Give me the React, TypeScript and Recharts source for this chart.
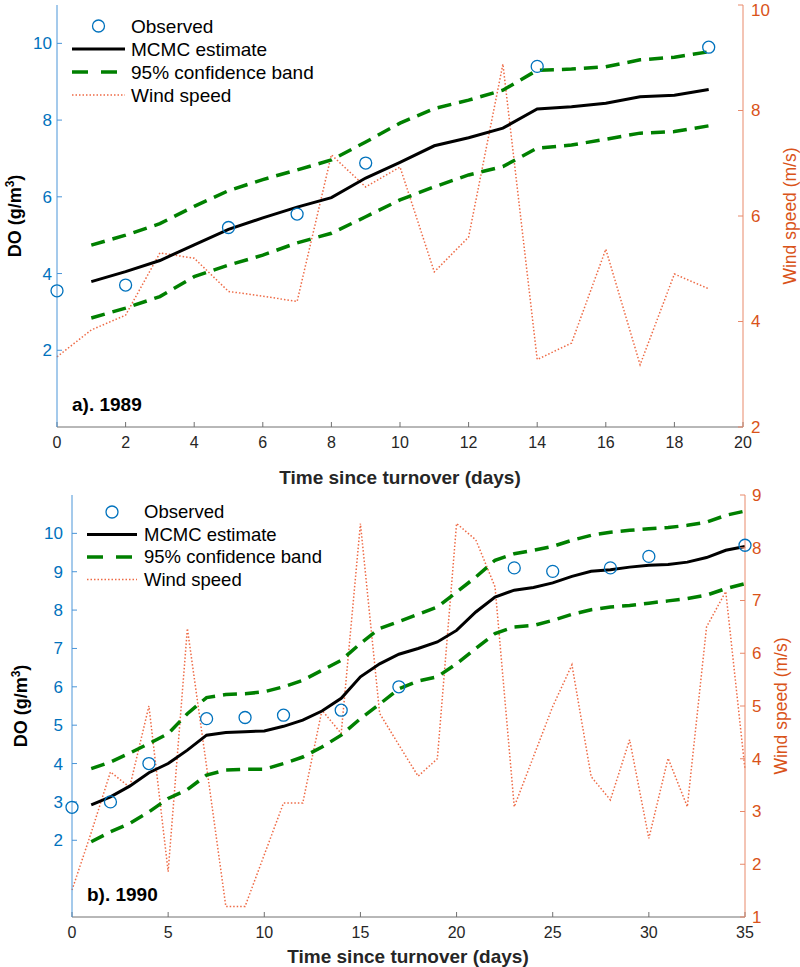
import React from 'react';
import { ComposedChart, Line, XAxis, YAxis } from 'recharts';

// ---------- data: 1989 ----------
const days1989 = [0, 1, 2, 3, 4, 5, 6, 7, 8, 9, 10, 11, 12, 13, 14, 15, 16, 17, 18, 19];
const observed1989 = [3.55, null, 3.7, null, null, 5.2, null, 5.55, null, 6.88, null, null, null, null, 9.4, null, null, null, null, 9.9];
const mcmc1989 = [null, 3.79, 4.05, 4.34, 4.75, 5.15, 5.45, 5.73, 5.98, 6.49, 6.9, 7.33, 7.54, 7.79, 8.29, 8.35, 8.44, 8.61, 8.65, 8.8];
const upper1989 = [null, 4.74, 5.0, 5.3, 5.75, 6.16, 6.45, 6.7, 6.96, 7.43, 7.92, 8.3, 8.52, 8.78, 9.3, 9.33, 9.39, 9.57, 9.64, 9.78];
const lower1989 = [null, 2.84, 3.1, 3.4, 3.92, 4.22, 4.48, 4.8, 5.05, 5.48, 5.92, 6.26, 6.57, 6.79, 7.27, 7.35, 7.5, 7.66, 7.7, 7.85];
const wind1989 = [3.33, 3.84, 4.12, 5.3, 5.2, 4.57, 4.48, 4.38, 7.16, 6.55, 6.93, 4.94, 5.6, 8.88, 3.28, 3.59, 5.37, 3.18, 4.9, 4.62];
const xTicks1989 = [0, 2, 4, 6, 8, 10, 12, 14, 16, 18, 20];
const doTicks1989 = [2, 4, 6, 8, 10];
const windTicks1989 = [2, 4, 6, 8, 10];

// ---------- data: 1990 ----------
const days1990 = [0, 1, 2, 3, 4, 5, 6, 7, 8, 9, 10, 11, 12, 13, 14, 15, 16, 17, 18, 19, 20, 21, 22, 23, 24, 25, 26, 27, 28, 29, 30, 31, 32, 33, 34, 35];
const observed1990 = [2.86, null, 3.0, null, 4.0, null, null, 5.17, null, 5.2, null, 5.26, null, null, 5.39, null, null, 6.0, null, null, null, null, null, 9.1, null, 9.01, null, null, 9.1, null, 9.4, null, null, null, null, 9.69];
const mcmc1990 = [null, 2.92, 3.13, 3.41, 3.76, 4.0, 4.35, 4.74, 4.81, 4.83, 4.85, 4.97, 5.13, 5.37, 5.7, 6.26, 6.6, 6.85, 7.0, 7.17, 7.47, 7.95, 8.34, 8.52, 8.59, 8.71, 8.88, 9.01, 9.05, 9.12, 9.17, 9.19, 9.25, 9.37, 9.56, 9.66];
const upper1990 = [null, 3.87, 4.04, 4.27, 4.52, 4.78, 5.3, 5.72, 5.8, 5.82, 5.87, 6.0, 6.17, 6.43, 6.69, 7.13, 7.52, 7.7, 7.89, 8.08, 8.47, 8.86, 9.3, 9.47, 9.56, 9.66, 9.82, 9.95, 10.03, 10.08, 10.12, 10.15, 10.21, 10.29, 10.47, 10.58];
const lower1990 = [null, 1.96, 2.22, 2.44, 2.74, 3.09, 3.32, 3.7, 3.83, 3.85, 3.85, 4.0, 4.17, 4.43, 4.74, 5.17, 5.55, 5.95, 6.15, 6.26, 6.6, 7.0, 7.39, 7.56, 7.6, 7.73, 7.89, 8.01, 8.08, 8.12, 8.18, 8.24, 8.3, 8.39, 8.56, 8.69];
const wind1990 = [1.51, 2.6, 3.75, 3.46, 5.0, 1.86, 6.47, 3.85, 1.2, 1.2, 2.18, 3.16, 3.16, 4.92, 4.48, 8.46, 4.86, 4.26, 3.67, 4.0, 8.46, 8.15, 7.26, 3.09, 4.04, 4.99, 5.78, 3.66, 3.22, 4.36, 2.49, 4.01, 3.09, 6.5, 7.17, 3.8];
const xTicks1990 = [0, 5, 10, 15, 20, 25, 30, 35];
const doTicks1990 = [2, 3, 4, 5, 6, 7, 8, 9, 10];
const windTicks1990 = [1, 2, 3, 4, 5, 6, 7, 8, 9];

const legendItems = ['Observed', 'MCMC estimate', '95% confidence band', 'Wind speed'];
const panelLabels = ['a). 1989', 'b). 1990'];

// ---------- styles ----------
const FONT = '"Liberation Sans", Arial, Helvetica, sans-serif';
const BLUE = '#0072BD';
const BLUE_AXIS = '#4A95D8';
const ORANGE = '#D95319';
const ORANGE_AXIS = '#E8896A';
const GREEN = '#008000';
const WIND = '#EE6A45';
const GRAY = '#707070';
const DARK = '#262626';

const build = (days: number[], obs: any[], mcmc: any[], up: any[], lo: any[], wind: any[]) =>
  days.map((x, i) => ({ x, obs: obs[i], mcmc: mcmc[i], upper: up[i], lower: lo[i], wind: wind[i] }));

const rows1989 = build(days1989, observed1989, mcmc1989, upper1989, lower1989, wind1989);
const rows1990 = build(days1990, observed1990, mcmc1990, upper1990, lower1990, wind1990);

type Cfg = {
  top: number;
  height: number;
  marginTop: number;
  leftW: number;
  rightW: number;
  xAxisH: number;
  xMax: number;
  xTicks: number[];
  doTicks: number[];
  windDomain: [number, number];
  windTicks: number[];
  leftTickMargin: number;
  rightTickMargin: number;
  doLabel: [number, number];
  windLabel: [number, number];
  xLabel: [number, number];
  panel: [number, number];
  panelText: string;
  legend: { x0: number; x1: number; tx: number; y0: number; dy: number; fs: number };
};

// right-axis tick text; kept inside the page so the top label is not cut
const RightTick = (p: any) => {
  const y = Math.max(p.y, 10);
  return (
    <text x={p.x} y={y} dy="0.35em" textAnchor="start" fill={ORANGE} fontSize={17} fontFamily={FONT}>
      {p.payload.value}
    </text>
  );
};

function Panel({ cfg, rows }: { cfg: Cfg; rows: any[] }) {
  const lg = cfg.legend;
  return (
    <div style={{ position: 'absolute', left: 0, top: cfg.top, width: 800, height: cfg.height }}>
      <ComposedChart
        width={800}
        height={cfg.height}
        data={rows}
        margin={{ top: cfg.marginTop, right: 0, bottom: 0, left: 0 }}
      >
        <XAxis
          xAxisId="b"
          dataKey="x"
          type="number"
          orientation="bottom"
          domain={[0, cfg.xMax]}
          ticks={cfg.xTicks}
          interval={0}
          height={cfg.xAxisH}
          tickSize={-5}
          tickMargin={15}
          stroke={GRAY}
          tick={{ fill: DARK, fontSize: 16, fontFamily: FONT }}
        />
        <XAxis
          xAxisId="t"
          dataKey="x"
          type="number"
          orientation="top"
          domain={[0, cfg.xMax]}
          ticks={cfg.xTicks}
          interval={0}
          height={0}
          tickSize={-5}
          tick={false}
          stroke={GRAY}
        />
        <YAxis
          yAxisId="l"
          orientation="left"
          width={cfg.leftW}
          domain={[0, 11]}
          ticks={cfg.doTicks}
          interval={0}
          tickSize={-5}
          tickMargin={cfg.leftTickMargin}
          stroke={BLUE_AXIS}
          tick={{ fill: BLUE, fontSize: 17, fontFamily: FONT }}
        />
        <YAxis
          yAxisId="lm"
          orientation="right"
          width={0}
          domain={[0, 11]}
          ticks={cfg.doTicks}
          interval={0}
          tickSize={-5}
          tick={false}
          axisLine={false}
          stroke={BLUE_AXIS}
        />
        <YAxis
          yAxisId="r"
          orientation="right"
          width={cfg.rightW}
          domain={cfg.windDomain}
          ticks={cfg.windTicks}
          interval={0}
          tickSize={-5}
          tickMargin={cfg.rightTickMargin}
          stroke={ORANGE_AXIS}
          tick={RightTick}
        />
        <Line xAxisId="b" yAxisId="r" dataKey="wind" type="linear" stroke={WIND} strokeWidth={1.5}
          strokeDasharray="1.5 2" dot={false} activeDot={false} isAnimationActive={false} />
        <Line xAxisId="b" yAxisId="l" dataKey="upper" type="linear" stroke={GREEN} strokeWidth={3.5}
          strokeDasharray="14 8" dot={false} activeDot={false} isAnimationActive={false} />
        <Line xAxisId="b" yAxisId="l" dataKey="lower" type="linear" stroke={GREEN} strokeWidth={3.5}
          strokeDasharray="14 8" dot={false} activeDot={false} isAnimationActive={false} />
        <Line xAxisId="b" yAxisId="l" dataKey="mcmc" type="linear" stroke="#000" strokeWidth={3}
          dot={false} activeDot={false} isAnimationActive={false} />
        <Line xAxisId="b" yAxisId="l" dataKey="obs" type="linear" stroke="none"
          dot={{ r: 6, stroke: BLUE, strokeWidth: 1.3, fill: 'none' }} activeDot={false} isAnimationActive={false} />
      </ComposedChart>
      <svg
        width={800}
        height={cfg.height}
        style={{ position: 'absolute', left: 0, top: 0, pointerEvents: 'none' }}
        fontFamily={FONT}
      >
        <text
          x={cfg.doLabel[0]}
          y={cfg.doLabel[1]}
          dy="0.35em"
          transform={`rotate(-90 ${cfg.doLabel[0]} ${cfg.doLabel[1]})`}
          textAnchor="middle"
          fontWeight="bold"
          fontSize={18}
          fill="#000"
        >
          DO (g/m<tspan dy={-7} fontSize={12}>3</tspan><tspan dy={7}>)</tspan>
        </text>
        <text
          x={cfg.windLabel[0]}
          y={cfg.windLabel[1]}
          dy="0.35em"
          transform={`rotate(-90 ${cfg.windLabel[0]} ${cfg.windLabel[1]})`}
          textAnchor="middle"
          fontSize={17.5}
          fill={ORANGE}
        >
          Wind speed (m/s)
        </text>
        <text x={cfg.xLabel[0]} y={cfg.xLabel[1]} dy="0.35em" textAnchor="middle" fontWeight="bold" fontSize={19} fill={DARK}>
          Time since turnover (days)
        </text>
        <text x={cfg.panel[0]} y={cfg.panel[1]} dy="0.35em" fontWeight="bold" fontSize={19} fill="#000">
          {cfg.panelText}
        </text>
        {legendItems.map((name, i) => {
          const y = lg.y0 + i * lg.dy;
          let sym: any = null;
          if (i === 0) sym = <circle cx={(lg.x0 + lg.x1) / 2} cy={y} r={6} stroke={BLUE} strokeWidth={1.3} fill="none" />;
          if (i === 1) sym = <line x1={lg.x0} x2={lg.x1} y1={y} y2={y} stroke="#000" strokeWidth={3} />;
          if (i === 2) sym = <line x1={lg.x0} x2={lg.x1} y1={y} y2={y} stroke={GREEN} strokeWidth={3.5} strokeDasharray="16 13" />;
          if (i === 3) sym = <line x1={lg.x0} x2={lg.x1} y1={y} y2={y} stroke={WIND} strokeWidth={1.5} strokeDasharray="1.5 2" />;
          return (
            <g key={name}>
              {sym}
              <text x={lg.tx} y={y} dy="0.35em" fontSize={lg.fs} fill="#000">{name}</text>
            </g>
          );
        })}
      </svg>
    </div>
  );
}

const cfg1989: Cfg = {
  top: 0,
  height: 490,
  marginTop: 5,
  leftW: 57,
  rightW: 57,
  xAxisH: 63,
  xMax: 20,
  xTicks: xTicks1989,
  doTicks: doTicks1989,
  windDomain: [2, 10],
  windTicks: windTicks1989,
  leftTickMargin: 10,
  rightTickMargin: 13,
  doLabel: [15, 216],
  windLabel: [790, 216],
  xLabel: [400, 477],
  panel: [72, 404],
  panelText: panelLabels[0],
  legend: { x0: 72, x1: 125, tx: 131, y0: 26, dy: 23, fs: 19 },
};

const cfg1990: Cfg = {
  top: 480,
  height: 487,
  marginTop: 15,
  leftW: 72,
  rightW: 55,
  xAxisH: 50,
  xMax: 35,
  xTicks: xTicks1990,
  doTicks: doTicks1990,
  windDomain: [1, 9],
  windTicks: windTicks1990,
  leftTickMargin: 14,
  rightTickMargin: 12,
  doLabel: [21, 226],
  windLabel: [781, 226],
  xLabel: [408, 476],
  panel: [87, 414],
  panelText: panelLabels[1],
  legend: { x0: 87, x1: 137, tx: 144, y0: 32, dy: 22.5, fs: 18.5 },
};

export default function App() {
  return (
    <div style={{ position: 'absolute', left: 0, top: 0, width: 800, height: 967, background: '#fff' }}>
      <Panel cfg={cfg1989} rows={rows1989} />
      <Panel cfg={cfg1990} rows={rows1990} />
    </div>
  );
}
